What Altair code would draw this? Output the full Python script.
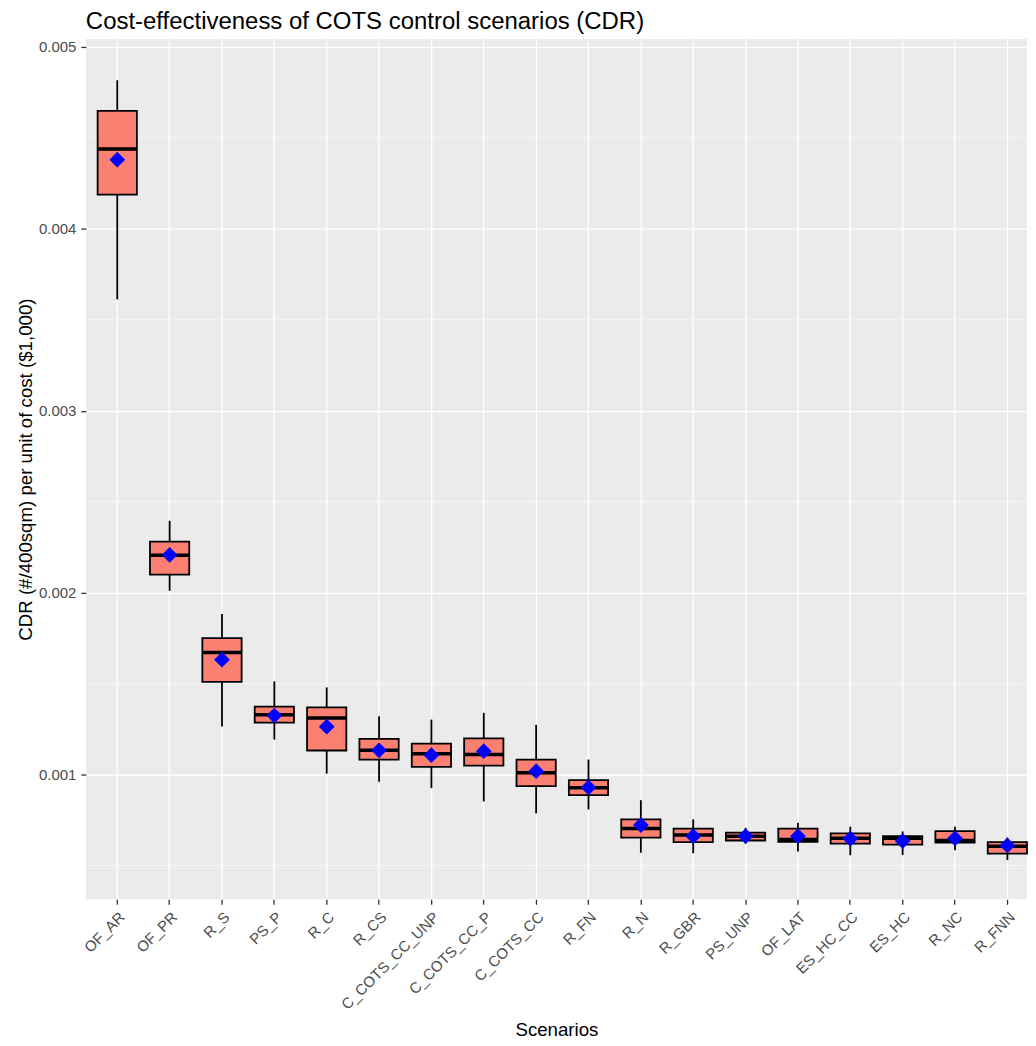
import altair as alt
import pandas as pd

scenarios = ["OF_AR", "OF_PR", "R_S", "PS_P", "R_C", "R_CS", "C_COTS_CC_UNP",
             "C_COTS_CC_P", "C_COTS_CC", "R_FN", "R_N", "R_GBR", "PS_UNP",
             "OF_LAT", "ES_HC_CC", "ES_HC", "R_NC", "R_FNN"]
whisker_low = [0.003612, 0.002010, 0.001264, 0.001192, 0.001005, 0.000960, 0.000925,
               0.000852, 0.000786, 0.000808, 0.000570, 0.000567, 0.000620, 0.000577,
               0.000556, 0.000557, 0.000583, 0.000530]
q1 = [0.004188, 0.002099, 0.001509, 0.001285, 0.001132, 0.001082, 0.001042,
      0.001049, 0.000936, 0.000887, 0.000653, 0.000628, 0.000637, 0.000630,
      0.000620, 0.000614, 0.000626, 0.000565]
median = [0.004439, 0.002205, 0.001671, 0.001329, 0.001311, 0.001133, 0.001114,
          0.001110, 0.001010, 0.000927, 0.000703, 0.000667, 0.000661, 0.000643,
          0.000649, 0.000650, 0.000637, 0.000606]
q3 = [0.004649, 0.002280, 0.001750, 0.001373, 0.001369, 0.001196, 0.001170,
      0.001199, 0.001082, 0.000969, 0.000753, 0.000702, 0.000680, 0.000702,
      0.000676, 0.000661, 0.000689, 0.000628]
whisker_high = [0.004817, 0.002395, 0.001882, 0.001512, 0.001479, 0.001320, 0.001302,
                0.001339, 0.001273, 0.001082, 0.000859, 0.000753, 0.000707, 0.000735,
                0.000713, 0.000687, 0.000713, 0.000653]
mean = [0.004380, 0.002207, 0.001631, 0.001324, 0.001263, 0.001133, 0.001106,
        0.001128, 0.001018, 0.000929, 0.000722, 0.000661, 0.000661, 0.000661,
        0.000647, 0.000634, 0.000649, 0.000610]
y_ticks = [0.001, 0.002, 0.003, 0.004, 0.005]
minor_grid = [0.0005, 0.0015, 0.0025, 0.0035, 0.0045]

df = pd.DataFrame({
    "scenario": scenarios, "lo": whisker_low, "q1": q1, "med": median,
    "q3": q3, "hi": whisker_high, "mean": mean,
})
grid_df = pd.DataFrame({"g": minor_grid})

FONT = "Liberation Sans"
y_dom = [0.000314, 0.005044]

xscale = alt.Scale(domain=scenarios, paddingInner=0.25, paddingOuter=0.1125, align=1)
yscale = alt.Scale(domain=y_dom, nice=False, zero=False)

x_enc = alt.X("scenario:N", sort=scenarios, scale=xscale,
              axis=alt.Axis(title="Scenarios", labelAngle=315, labelAlign="right",
                            labelBaseline="top", bandPosition=0.5,
                            grid=True, gridColor="white", gridWidth=1.3,
                            domain=False, tickColor="#333333", tickSize=5,
                            tickWidth=1.3, labelColor="#4D4D4D", labelFontSize=15,
                            labelFont=FONT, labelPadding=5, titleFont=FONT,
                            titleFontSize=18.7, titleFontWeight="normal",
                            titleColor="black", titlePadding=8))

y_axis = alt.Axis(title="CDR (#/400sqm) per unit of cost ($1,000)", values=y_ticks,
                  format=".3f", grid=True, gridColor="white", gridWidth=1.3,
                  domain=False, tickColor="#333333", tickSize=5, tickWidth=1.3,
                  labelColor="#4D4D4D", labelFontSize=15, labelFont=FONT,
                  labelPadding=5, titleFont=FONT, titleFontSize=18.7,
                  titleFontWeight="normal", titleColor="black", titlePadding=3)

base = alt.Chart(df)

minor = alt.Chart(grid_df).mark_rule(color="white", strokeWidth=0.6).encode(
    y=alt.Y("g:Q", scale=yscale, axis=y_axis)
)

whisk = base.mark_rule(color="black", strokeWidth=1.8, opacity=1).encode(
    x=x_enc,
    y=alt.Y("lo:Q", scale=yscale, axis=y_axis),
    y2="hi:Q",
)

box = base.mark_bar(color="#FA8072", stroke="black", strokeWidth=1.8,
                    opacity=1).encode(
    x=x_enc,
    y=alt.Y("q1:Q", scale=yscale, axis=y_axis),
    y2="q3:Q",
)

med = base.mark_tick(color="black", thickness=3.5, size=39, opacity=1).encode(
    x=x_enc,
    y=alt.Y("med:Q", scale=yscale, axis=y_axis),
)

mn = base.mark_point(shape="diamond", filled=True, color="#0000FF", size=250,
                     opacity=1).encode(
    x=x_enc,
    y=alt.Y("mean:Q", scale=yscale, axis=y_axis),
)

chart = alt.layer(minor, whisk, box, med, mn).properties(
    width=943, height=862,
    title=alt.TitleParams("Cost-effectiveness of COTS control scenarios (CDR)",
                          anchor="start", frame="group", font=FONT, fontSize=24,
                          fontWeight="normal", color="black", offset=5),
    padding={"left": 8, "top": 1, "right": 0, "bottom": 5},
).configure(background="white").configure_view(fill="#EBEBEB", stroke=None)

chart.save("out.html", embed_options={"renderer": "svg", "actions": False})
